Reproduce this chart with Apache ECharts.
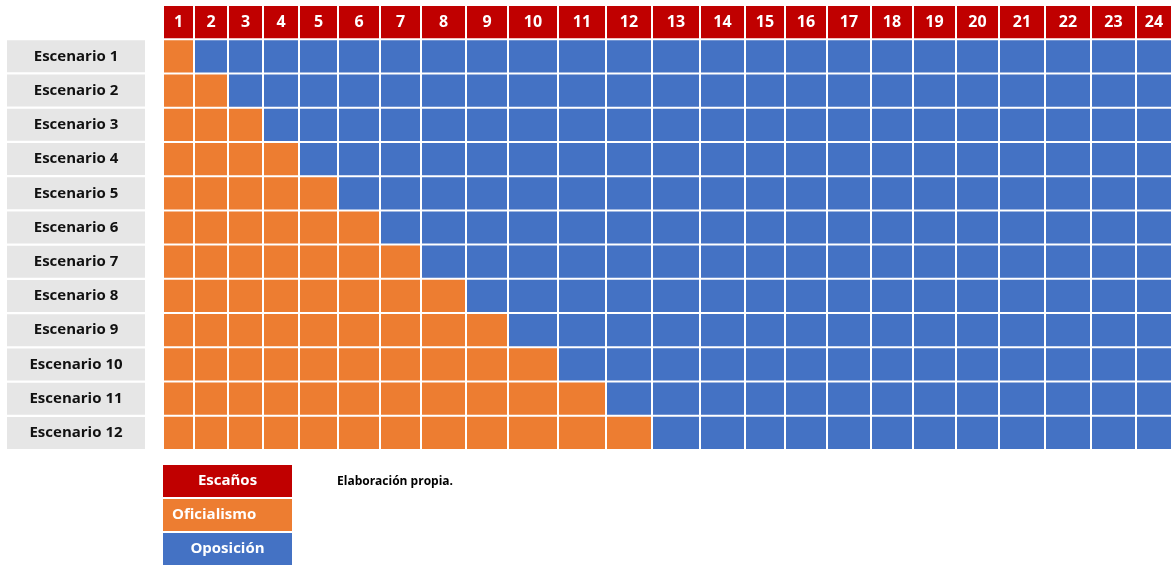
<!DOCTYPE html>
<html>
<head>
<meta charset="utf-8">
<script src="https://cdn.jsdelivr.net/npm/echarts@6/dist/echarts.min.js"></script>
<style>
  html, body { margin: 0; padding: 0; background: #ffffff; }
  #chart { width: 1172px; height: 565px; }
</style>
</head>
<body>
<div id="chart"></div>
<script>
// Seats (column headers) and scenarios (rows)
const seatLabels = ['1','2','3','4','5','6','7','8','9','10','11','12','13','14','15','16','17','18','19','20','21','22','23','24'];
const scenarios = ['Escenario 1','Escenario 2','Escenario 3','Escenario 4','Escenario 5','Escenario 6',
                   'Escenario 7','Escenario 8','Escenario 9','Escenario 10','Escenario 11','Escenario 12'];
// Seats held by the governing party in each scenario
const oficialismoSeats = [1,2,3,4,5,6,7,8,9,10,11,12];

// Layout: relative width of each seat column
const columnWidths = [31,34,35,36,39,42,41,45,42,50,48,46,48,45,40,42,44,42,43,43,46,46,45,36];

const COLORS = { header: '#c00000', oficialismo: '#ed7d31', oposicion: '#4472c4', label: '#e6e6e6' };
const FONT = '"Open Sans"';

const edges = [0];
columnWidths.forEach(w => edges.push(edges[edges.length - 1] + w));

// Each cell: [seat index, row index, kind]; row 0 is the header
const cells = [];
seatLabels.forEach((s, c) => cells.push([c, 0, 'header']));
scenarios.forEach((name, r) => {
  seatLabels.forEach((s, c) => {
    cells.push([c, r + 1, (c < oficialismoSeats[r]) ? 'oficialismo' : 'oposicion']);
  });
});

// Legend boxes below the grid
const legendItems = [
  { text: 'Escaños', color: COLORS.header, top: 465, align: 'center' },
  { text: 'Oficialismo', color: COLORS.oficialismo, top: 499, align: 'left' },
  { text: 'Oposición', color: COLORS.oposicion, top: 533, align: 'center' }
];
const legendGraphics = [];
legendItems.forEach(it => {
  legendGraphics.push({ type: 'rect', shape: { x: 163, y: it.top, width: 129, height: 32 }, style: { fill: it.color } });
  legendGraphics.push({
    type: 'text',
    style: {
      text: it.text,
      x: it.align === 'center' ? 163 + 64.5 : 172,
      y: it.top + 16,
      align: it.align, verticalAlign: 'middle',
      fill: '#ffffff', font: 'bold 15px ' + FONT
    }
  });
});
legendGraphics.push({
  type: 'text',
  style: { text: 'Elaboración propia.', x: 337, y: 482, verticalAlign: 'middle', fill: '#000000', font: 'bold 12px ' + FONT }
});

const chart = echarts.init(document.getElementById('chart'), null, { renderer: 'canvas' });

chart.setOption({
  animation: false,
  backgroundColor: '#ffffff',
  grid: { left: 163, right: 0, top: 5, bottom: 115, containLabel: false },
  xAxis: {
    type: 'value', min: 0, max: edges[edges.length - 1],
    show: false
  },
  yAxis: {
    type: 'category',
    inverse: true,
    data: [''].concat(scenarios),
    axisLine: { show: false },
    axisTick: { show: false },
    splitLine: { show: false },
    axisLabel: {
      margin: 18,
      formatter: v => v ? '{box|' + v + '}' : '',
      rich: {
        box: {
          width: 138, height: 32, lineHeight: 34,
          align: 'center',
          backgroundColor: COLORS.label,
          color: '#111111',
          fontFamily: FONT, fontWeight: 'bold', fontSize: 15
        }
      }
    }
  },
  series: [{
    type: 'custom',
    data: cells,
    encode: { x: 0, y: 1 },
    renderItem: function (params, api) {
      const c = api.value(0), r = api.value(1);
      const kind = cells[params.dataIndex][2];
      const p0 = api.coord([edges[c], r]);
      const p1 = api.coord([edges[c + 1], r]);
      const h = api.size([0, 1])[1];
      const x = p0[0] + 1, y = p0[1] - h / 2 + 1;
      const w = p1[0] - p0[0] - 2, hh = h - 2;
      const rect = {
        type: 'rect',
        shape: { x: x, y: y, width: w, height: hh },
        style: { fill: COLORS[kind] }
      };
      if (kind !== 'header') return rect;
      return {
        type: 'group',
        children: [rect, {
          type: 'text',
          style: {
            text: seatLabels[c],
            x: x + w / 2, y: y + hh / 2,
            align: 'center', verticalAlign: 'middle',
            fill: '#ffffff', font: 'bold 16px ' + FONT
          }
        }]
      };
    }
  }],
  graphic: legendGraphics
});
</script>
</body>
</html>
